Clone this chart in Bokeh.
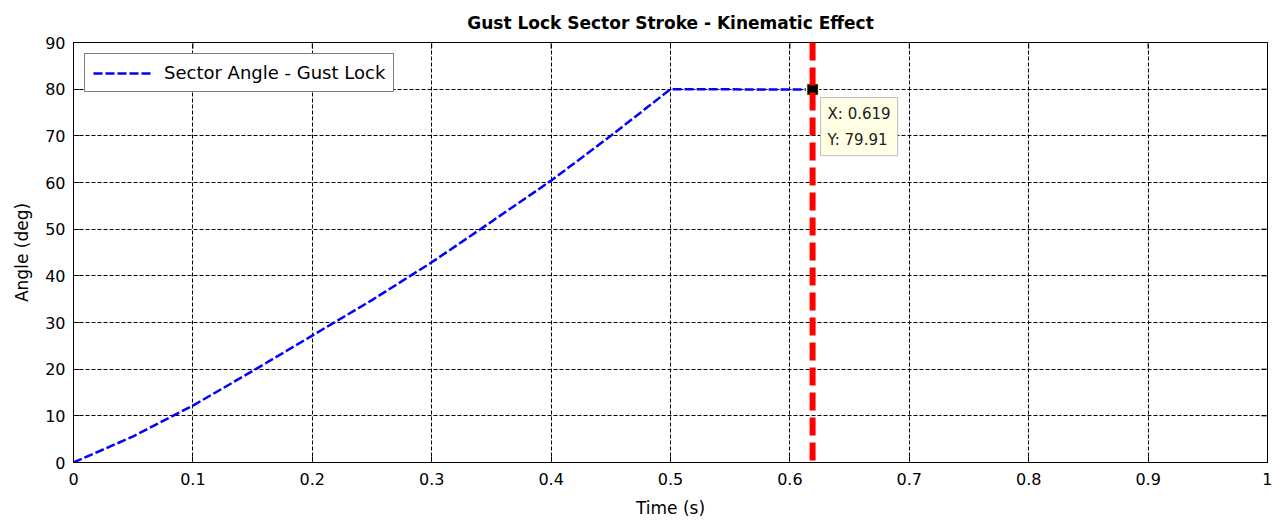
import math

from bokeh.plotting import figure
from bokeh.models import (ColumnDataSource, FixedTicker, Span, Label,
                          Legend, LegendItem, Range1d)
from bokeh.embed import file_html
from bokeh.resources import INLINE

# Sector angle of the gust lock against time
time_s = [0.0, 0.05, 0.10, 0.15, 0.20, 0.25, 0.30, 0.35, 0.40, 0.45, 0.50, 0.619]
angle_deg = [0.0, 5.6, 12.2, 19.6, 27.2, 34.8, 42.9, 51.6, 60.4, 70.0, 80.0, 79.91]

# Data tip / end-of-stroke marker
tip_x = 0.619
tip_y = 79.91

x_ticks = [0, 0.1, 0.2, 0.3, 0.4, 0.5, 0.6, 0.7, 0.8, 0.9, 1]
x_tick_labels = ["0", "0.1", "0.2", "0.3", "0.4", "0.5", "0.6", "0.7", "0.8", "0.9", "1"]
y_ticks = [0, 10, 20, 30, 40, 50, 60, 70, 80, 90]
x_max = 1
y_max = 90

FONT = "DejaVu Sans"

p = figure(width=1272, height=521, output_backend="svg", toolbar_location=None,
           x_range=Range1d(0, x_max), y_range=Range1d(0, y_max),
           min_border_left=73, min_border_right=5, min_border_top=42,
           min_border_bottom=59)

p.background_fill_color = "white"
p.border_fill_color = "white"
p.outline_line_color = "black"
p.outline_line_width = 1

p.title.text = "Gust Lock Sector Stroke - Kinematic Effect"
p.title.align = "center"
p.title.text_font = FONT
p.title.text_font_size = "17px"
p.title.text_font_style = "bold"
p.title.text_color = "black"
p.title.standoff = 19

# axes styling
for ax in (p.xaxis[0], p.yaxis[0]):
    ax.major_tick_in = 6
    ax.major_tick_out = 0
    ax.minor_tick_line_color = None
    ax.axis_line_color = "black"
    ax.major_tick_line_color = "black"
    ax.major_label_text_font = FONT
    ax.major_label_text_font_size = "16px"
    ax.major_label_text_color = "black"
    ax.axis_label_text_font = FONT
    ax.axis_label_text_font_size = "17px"
    ax.axis_label_text_font_style = "normal"
    ax.axis_label_text_color = "black"

p.xaxis[0].ticker = FixedTicker(ticks=x_ticks)
p.xaxis[0].major_label_overrides = {t: s for t, s in zip(x_ticks, x_tick_labels)}
p.xaxis[0].axis_label = "Time (s)"
p.xaxis[0].major_label_standoff = 10
p.xaxis[0].axis_label_standoff = 10

p.yaxis[0].ticker = FixedTicker(ticks=y_ticks)
p.yaxis[0].axis_label = "Angle (deg)"
p.yaxis[0].major_label_standoff = 8
p.yaxis[0].axis_label_standoff = 10

# dashed black grid
for g in (p.xgrid[0], p.ygrid[0]):
    g.grid_line_color = "black"
    g.grid_line_dash = "4 2"
    g.grid_line_width = 1
    g.grid_line_alpha = 1.0
p.xgrid[0].ticker = FixedTicker(ticks=x_ticks)
p.ygrid[0].ticker = FixedTicker(ticks=y_ticks)

# inward tick marks along the top and right edges of the box (clipped to the frame)
p.scatter(x_ticks, [y_max] * len(x_ticks), marker="dash", size=12,
          angle=math.pi / 2, line_color="black", line_width=1)
p.scatter([x_max] * len(y_ticks), y_ticks, marker="dash", size=12,
          line_color="black", line_width=1)

src = ColumnDataSource(data=dict(t=time_s, a=angle_deg))
curve = p.line("t", "a", source=src, line_color="#0000FF", line_width=2.5,
               line_dash="9 3")

# end-of-stroke cursor
cursor = Span(location=tip_x, dimension="height", line_color="#FF0000",
              line_width=6, line_dash="18 7")
p.add_layout(cursor)

p.scatter([tip_x], [tip_y], marker="square", size=12, fill_color="black",
          line_color="#F5F0C8", line_width=1.5)

tip = Label(x=tip_x, y=tip_y, x_offset=8, y_offset=-8,
            text="X: 0.619\nY: 79.91", text_font=FONT, text_font_size="15px",
            text_color="#202020", text_align="left", text_baseline="top",
            text_line_height=1.45,
            background_fill_color="#FFFFE6", border_line_color="#BDBDBD",
            border_line_width=1, padding=7)
p.add_layout(tip)

legend = Legend(items=[LegendItem(label="Sector Angle - Gust Lock", renderers=[curve])],
                location="top_left")
legend.margin = 11
legend.padding = 8
legend.label_text_font = FONT
legend.label_text_font_size = "18px"
legend.label_text_color = "black"
legend.glyph_width = 60
legend.label_standoff = 11
legend.label_height = 16
legend.glyph_height = 16
legend.border_line_color = "black"
legend.border_line_width = 1
legend.background_fill_color = "white"
legend.background_fill_alpha = 1.0
p.add_layout(legend)

open("out.html", "w").write(file_html(p, INLINE))
